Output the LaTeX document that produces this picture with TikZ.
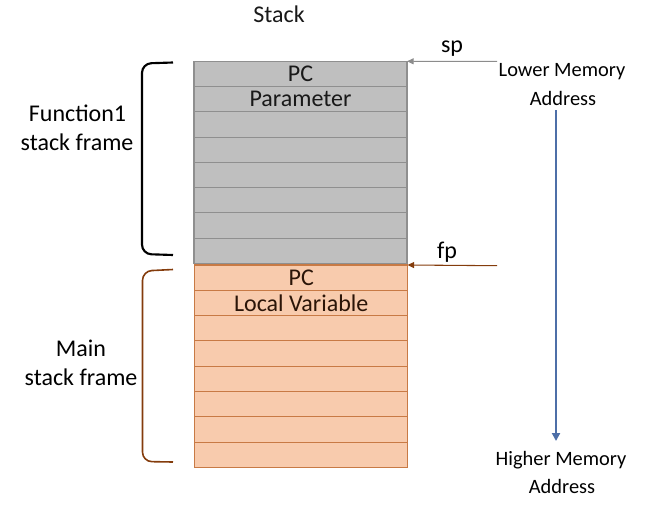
\documentclass[tikz,border=0pt]{standalone}
\usepackage{fontspec}
\setmainfont{Carlito}
\usetikzlibrary{arrows.meta}
\definecolor{gfill}{HTML}{BFBFBF}
\definecolor{gline}{HTML}{8F8F8F}
\definecolor{ofill}{HTML}{F8CBAD}
\definecolor{oline}{HTML}{C87A45}
\definecolor{otext}{HTML}{2B1508}
\definecolor{brownline}{HTML}{843C0C}
\definecolor{spgray}{HTML}{8C8C8C}
\definecolor{blueline}{HTML}{4D6FA8}
\tikzset{
  big/.style={font=\fontsize{18}{21.6}\selectfont, inner sep=0pt, anchor=base},
  small/.style={font=\fontsize{15.3}{18.4}\selectfont, inner sep=0pt, anchor=base},
  gcell/.style={draw=gline, fill=gfill, line width=0.8pt, minimum width=159.75pt, minimum height=18.94pt, inner sep=0pt, outer sep=0pt, font=\fontsize{18}{21.6}\selectfont, text=black!90},
  ocell/.style={draw=oline, fill=ofill, line width=0.8pt, minimum width=159.4pt, minimum height=18.97pt, inner sep=0pt, outer sep=0pt, font=\fontsize{18}{21.6}\selectfont, text=otext},
  ptr/.style={line width=0.8pt, -{Triangle[length=5pt,width=4.5pt]}},
}
\begin{document}
\begin{tikzpicture}[x=0.75pt,y=-0.75pt]
\useasboundingbox (0,0) rectangle (659,514);
% gray block (Function1)
\foreach \i in {1,...,8}{
  \node[gcell] (g\i) at (300.5,{61.3+25.25*(\i-0.5)}) {};
}
\node[gcell, draw=none, fill=none] at (g1) {PC};
\node[gcell, draw=none, fill=none] at (g2) {Parameter};
% orange block (Main)
\foreach \i in {1,...,8}{
  \node[ocell] (o\i) at (301.2,{265+25.29*(\i-0.5)}) {};
}
\node[ocell, draw=none, fill=none] at (o1) {PC};
\node[ocell, draw=none, fill=none] at (o2) {Local Variable};
% title
\node[big, text=black!90] (stack) at (279,22) {Stack};
% pointers
\node[big] (sp) at (452,52) {sp};
\node[big] (fp) at (447,258) {fp};
\coordinate (spstart) at (497,61.3);
\coordinate (fpstart) at (497,265.7);
\draw[ptr, spgray] (spstart) -- (g1.north east);
\draw[ptr, brownline] (fpstart) -- (o1.north east);
% brackets
\draw[line width=1.6pt, black, rounded corners=7pt] (173,62.5) -- (142,63.5) -- (142,254) -- (173,255);
\draw[line width=1.2pt, brownline, rounded corners=7pt] (173,269.5) -- (142.5,271) -- (142.5,461.5) -- (173,462);
% frame labels
\node[big] (f1a) at (77.5,121.7) {Function1};
\node[big] (f1b) at (77,150) {stack frame};
\node[big] (mna) at (81,356.7) {Main};
\node[big] (mnb) at (81,385) {stack frame};
% memory direction
\node[small] (lowa) at (562,76.7) {Lower Memory};
\node[small] (lowb) at (563,105) {Address};
\node[small] (higha) at (561,465) {Higher Memory};
\node[small] (highb) at (562,493) {Address};
\coordinate (arrtop) at (556,110);
\coordinate (arrbot) at (556,441);
\draw[line width=1.5pt, blueline, -{Triangle[length=6pt,width=6pt]}] (arrtop) -- (arrbot);
\end{tikzpicture}
\end{document}
